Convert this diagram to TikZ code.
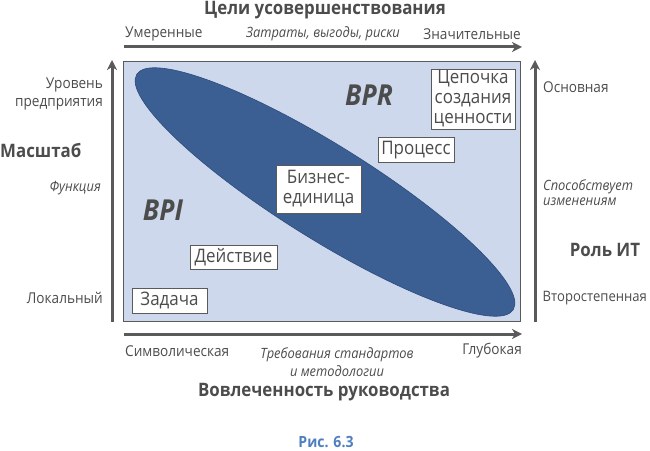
\documentclass[tikz,border=0pt]{standalone}
\usepackage{fontspec}
\setmainfont{Open Sans}[FakeStretch=0.91]
\usetikzlibrary{shapes.geometric,arrows.meta}
\definecolor{txt}{HTML}{4C4C4C}
\definecolor{axis}{HTML}{5A5A5A}
\definecolor{panel}{HTML}{CDD8EC}
\definecolor{ellfill}{HTML}{3B5E93}
\definecolor{ellline}{HTML}{2E4C7C}
\definecolor{cap}{HTML}{4F7FC0}
\tikzset{
  lbl/.style={text=txt, font=\fontsize{15}{18}\selectfont, inner sep=0pt},
  ital/.style={text=txt, font=\fontsize{14.2}{18.5}\selectfont\itshape, inner sep=0pt, align=center},
  sideital/.style={text=txt, font=\fontsize{14.2}{15}\selectfont\itshape, inner sep=0pt},
  heading/.style={text=txt, font=\fontsize{18.6}{20}\selectfont\bfseries, inner sep=0pt},
  boxnode/.style={draw=axis, line width=0.8bp, fill=white, text=txt, font=\fontsize{18.7}{20}\selectfont, align=center, inner sep=0pt},
  bigital/.style={text=txt, font=\fontsize{29}{30}\selectfont\bfseries\itshape, inner sep=0pt},
  axisarrow/.style={draw=axis, line width=3bp, -{Stealth[length=10bp,width=10bp,inset=3bp]}}
}
\begin{document}
\begin{tikzpicture}[x=1bp,y=-1bp]
\useasboundingbox (0,0) rectangle (650,451);
% panel
\node[draw=axis, line width=0.8bp, fill=panel, minimum width=397bp, minimum height=260bp, inner sep=0pt] (panel) at (321.5,191) {};
% ellipse
\node[ellipse, fill=ellfill, draw=ellline, line width=0.6bp, minimum width=444bp, minimum height=94bp, rotate=-32, inner sep=0pt] (ell) at (325,192) {};
% title
\node[heading] (title) at (325,10) {Цели усовершенствования};
% top arrow
\coordinate (ta) at (124,47);
\coordinate (tb) at (522,47);
\draw[axisarrow] (ta) -- (tb);
\node[lbl, anchor=west] (umer) at (125,34) {Умеренные};
\node[ital] (zatr) at (323,34) {Затраты, выгоды, риски};
\node[lbl, anchor=east] (znach) at (521,34) {Значительные};
% bottom arrow
\coordinate (ba) at (124,334);
\coordinate (bb) at (522,334);
\draw[axisarrow] (ba) -- (bb);
\node[lbl, anchor=west] (simv) at (125,351) {Символическая};
\node[lbl, anchor=east] (glub) at (522,351) {Глубокая};
\node[ital] (treb) at (337,362) {Требования стандартов\\и методологии};
\node[heading] (vovl) at (324,392) {Вовлеченность руководства};
\node[text=cap, font=\fontsize{15.5}{16}\selectfont\bfseries, inner sep=0pt] (fig) at (326,442) {Рис. 6.3};
% left arrow
\coordinate (la) at (112,322);
\coordinate (lb) at (112,60);
\draw[axisarrow] (la) -- (lb);
\node[lbl, anchor=east, align=right] (urov) at (103,94) {Уровень\\предприятия};
\node[heading, anchor=west] (masht) at (0,150) {Масштаб};
\node[sideital, anchor=east] (funk) at (101,188) {Функция};
\node[lbl, anchor=east] (lok) at (103,298) {Локальный};
% right arrow
\coordinate (ra) at (535,322);
\coordinate (rb) at (535,60);
\draw[axisarrow] (ra) -- (rb);
\node[lbl, anchor=west] (osn) at (543,87) {Основная};
\node[sideital, anchor=west, align=left] (sposob) at (543,193) {Способствует\\изменениям};
\node[heading] (rol) at (605,250) {Роль ИТ};
\node[lbl, anchor=west, font=\fontsize{14.4}{18}\selectfont] (vtor) at (542.5,298) {Второстепенная};
% inner labels
\node[bigital] (bpr) at (369,95) {BPR};
\node[bigital] (bpi) at (163,210) {BPI};
\node[boxnode, minimum width=84bp, minimum height=60bp] (chain) at (473,99) {Цепочка\\создания\\ценности};
\node[boxnode, minimum width=76bp, minimum height=25bp] (proc) at (416,150) {Процесс};
\node[boxnode, minimum width=85bp, minimum height=48bp] (biz) at (318.5,189) {Бизнес-\\единица};
\node[boxnode, minimum width=87bp, minimum height=24bp] (deist) at (233.5,257) {Действие};
\node[boxnode, minimum width=75bp, minimum height=25bp] (zad) at (169.5,300.5) {Задача};
\end{tikzpicture}
\end{document}
